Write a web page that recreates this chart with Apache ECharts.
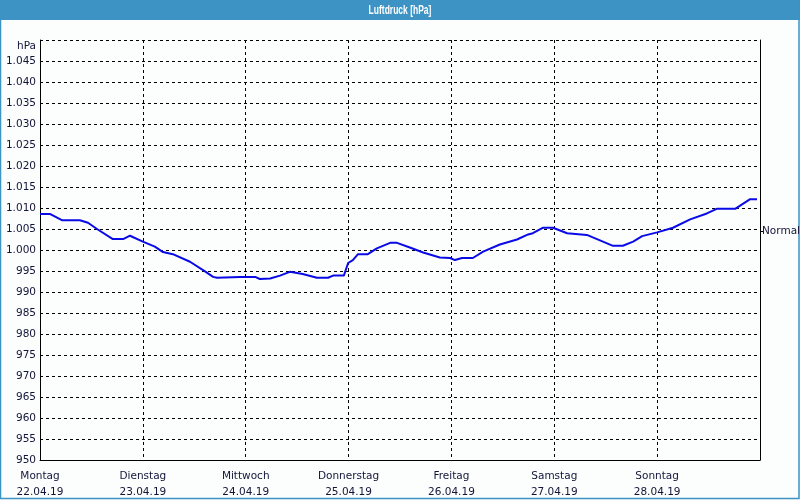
<!DOCTYPE html>
<html><head><meta charset="utf-8">
<script src="https://cdn.jsdelivr.net/npm/echarts@6/dist/echarts.min.js"></script>
<style>html,body{margin:0;padding:0;background:#fbfefc;}#c{width:800px;height:500px;}</style>
</head><body><div id="c"></div>
<script>
// Hours since Montag 22.04.19 00:00
const hours = [0,2.3,5.1,9.3,11.2,13.3,17.0,19.4,21.0,24.0,26.8,28.7,31.0,35.0,38.5,40.4,41.3,46.7,50.2,51.3,53.7,56.0,58.3,61.3,64.6,67.2,68.4,70.9,71.9,73.0,74.2,76.5,78.6,81.7,83.3,86.3,89.4,93.3,95.7,96.8,98.5,101.0,103.4,107.3,111.3,113.9,115.0,117.4,119.7,123.0,127.6,129.0,133.7,136.0,138.4,140.5,144.0,147.7,151.7,155.6,157.9,162.2,165.7,167.3];
const pressure = [1008.6,1008.6,1007.1,1007.1,1006.5,1005.0,1002.6,1002.6,1003.4,1002.0,1000.8,999.5,999.0,997.2,994.9,993.6,993.4,993.6,993.6,993.1,993.2,993.9,994.8,994.3,993.4,993.4,993.9,993.9,996.9,997.6,999.0,999.0,1000.4,1001.7,1001.7,1000.6,999.4,998.2,998.1,997.6,998.1,998.1,999.6,1001.3,1002.5,1003.7,1004.0,1005.3,1005.3,1004.0,1003.6,1003.0,1001.0,1001.0,1002.0,1003.3,1004.2,1005.3,1007.3,1008.7,1009.8,1009.8,1012.1,1012.1];
const dayNames = ['Montag','Dienstag','Mittwoch','Donnerstag','Freitag','Samstag','Sonntag'];
const dayDates = ['22.04.19','23.04.19','24.04.19','25.04.19','26.04.19','27.04.19','28.04.19'];
const normalValue = 1004.5;
const titleText = 'Luftdruck [hPa]';
const unitLabel = 'hPa';

const FONT = 'DejaVu Sans';
const TXT = '#14143a';
const chart = echarts.init(document.getElementById('c'), null, {renderer:'canvas'});
function fmtP(v){
  if (v >= 1000) { const r = v - 1000; return '1.' + String(r).padStart(3,'0'); }
  return String(v);
}
chart.setOption({
  backgroundColor:'#fbfefc',
  animation:false,
  graphic:[
    {type:'rect',z:-1,shape:{x:0,y:0,width:800,height:20},style:{fill:'#3c93c4'}},
    {type:'rect',z:-1,shape:{x:0.5,y:0.5,width:798.5,height:498},style:{fill:null,stroke:'#3c93c4',lineWidth:1.5}},
    {type:'text',z:10,x:400,y:10.5,scaleX:0.68,style:{text:titleText,align:'center',verticalAlign:'middle',fill:'#ffffff',font:'bold 12.5px "Liberation Sans"'}}
  ],
  grid:{left:40,right:40,top:40,bottom:40,outerBoundsMode:'none',containLabel:false},
  xAxis:{type:'value',min:0,max:168,interval:24,
    axisLine:{show:true,onZero:false,lineStyle:{color:'#000',width:1}},
    axisTick:{show:false},
    splitLine:{show:true,lineStyle:{color:'#000',type:[3,3],width:1}},
    axisLabel:{margin:8,color:TXT,fontFamily:FONT,fontSize:10.5,lineHeight:16,showMaxLabel:false,
      formatter:function(v){const i=Math.round(v/24); if(i>=dayNames.length) return ''; return dayNames[i]+'\n'+dayDates[i];}}
  },
  yAxis:[{type:'value',min:950,max:1050,interval:5,
    axisLine:{show:true,lineStyle:{color:'#000',width:1}},
    axisTick:{show:false},
    splitLine:{show:true,lineStyle:{color:'#000',type:[3,3],width:1}},
    axisLabel:{margin:4,color:TXT,fontFamily:FONT,fontSize:10.5,
      formatter:function(v){ if(v===1050) return '{u|'+unitLabel+'}'; return fmtP(v);},
      rich:{u:{color:TXT,fontFamily:FONT,fontSize:10.5,padding:[12,0,0,0]}}}
  },{type:'value',min:950,max:1050,position:'right',
    axisLine:{show:true,lineStyle:{color:'#000',width:1}},
    axisTick:{show:true,length:3,inside:false,customValues:[normalValue],lineStyle:{color:'#000'}},
    splitLine:{show:false},
    axisLabel:{margin:2,color:TXT,fontFamily:FONT,fontSize:10.5,customValues:[normalValue],formatter:function(){return 'Normal';}}
  }],
  series:[{type:'line',yAxisIndex:0,showSymbol:false,symbol:'none',
    data:hours.map((h,i)=>[h,pressure[i]]),
    lineStyle:{color:'#0a0ae6',width:2}}]
});
</script></body></html>
